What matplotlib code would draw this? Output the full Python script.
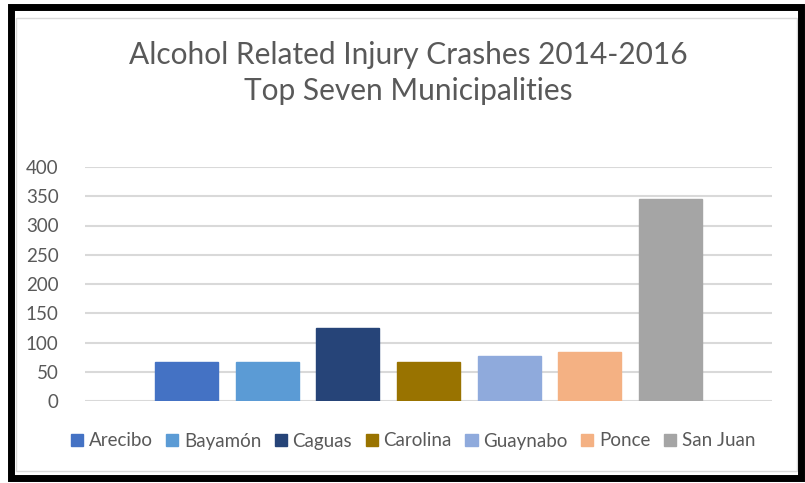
import matplotlib.pyplot as plt
from matplotlib.patches import Rectangle

# === Data ===
municipalities = ["Arecibo", "Bayamón", "Caguas", "Carolina", "Guaynabo", "Ponce", "San Juan"]
crashes = [67, 67, 125, 67, 77, 83, 345]
colors = ["#4472C4", "#5B9BD5", "#264478", "#997300", "#8FAADC", "#F4B183", "#A5A5A5"]

title = "Alcohol Related Injury Crashes 2014-2016\nTop Seven Municipalities"
yticks = [0, 50, 100, 150, 200, 250, 300, 350, 400]

plt.rcParams["font.family"] = ["Lato", "DejaVu Sans"]
gray = "#595959"

W, H = 805, 483
fig = plt.figure(figsize=(W / 100, H / 100), dpi=100)
fig.patch.set_facecolor("white")

# chart area border (light) and thick black frame around everything
fig.add_artist(Rectangle((16 / W, 1 - 471 / H), (797 - 16) / W, (471 - 18) / H,
                         transform=fig.transFigure, fill=False, ec="#D9D9D9", lw=1))
fig.add_artist(Rectangle((11 / W, 1 - 478 / H), (801 - 11) / W, (478 - 7) / H,
                         transform=fig.transFigure, fill=False, ec="black", lw=5))

ax = fig.add_axes([85 / W, 1 - 401 / H, (772 - 85) / W, (401 - 167) / H])

x = range(len(municipalities))
bars = ax.bar(x, crashes, width=0.78, color=colors, edgecolor=colors, zorder=3)
for b, name in zip(bars, municipalities):
    b.set_label(name)

ax.set_xlim(-1.256, 7.256)
ax.set_ylim(0, 400)
ax.set_yticks(yticks)
ax.set_xticks([])
ax.tick_params(axis="y", length=0, pad=19, labelsize=13.5, labelcolor=gray)
ax.yaxis.grid(True, color="#D9D9D9", lw=1.5, zorder=0)
for s in ax.spines.values():
    s.set_visible(False)

fig.text(0.507, 1 - 73 / H, title, ha="center", va="center", fontsize=21.5,
         color=gray, linespacing=1.36)

fig.legend(handles=list(bars), loc="center", bbox_to_anchor=(0.513, 1 - 441 / H),
           ncol=7, frameon=False, fontsize=13.5, labelcolor=gray,
           handlelength=0.65, handleheight=0.65, handletextpad=0.3, columnspacing=0.72)

plt.savefig("out.png", dpi=100)
plt.close()
